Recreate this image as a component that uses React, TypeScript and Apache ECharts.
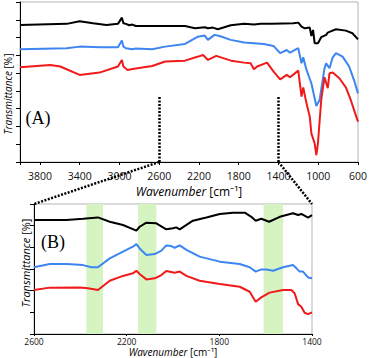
import React, { useEffect, useRef } from 'react';
import * as echarts from 'echarts';

// Panel (A): full spectrum, [wavenumber cm-1, transmittance (a.u.)]
const blackA: [number, number][] = [
  [4000, 77.1], [3530, 77.7], [3400, 79.2], [3265, 78.0], [3130, 77.1], [3015, 77.7], [2975, 81.2],
  [2960, 78.0], [2935, 77.7], [2900, 76.9], [2870, 77.3], [2835, 76.5], [2670, 76.5], [2340, 76.5],
  [2240, 75.2], [2140, 75.8], [2110, 75.2], [2060, 75.6], [2010, 74.7], [1945, 75.8], [1880, 76.9],
  [1745, 77.7], [1645, 77.3], [1580, 77.7], [1480, 77.7], [1350, 77.9], [1250, 78.0], [1200, 78.4],
  [1168, 76.2], [1135, 75.2], [1085, 75.6], [1069, 70.9], [1052, 74.3], [1036, 66.8], [1003, 66.8],
  [970, 70.2], [920, 71.5], [904, 72.8], [887, 73.2], [821, 74.7], [722, 73.9], [656, 72.4], [600, 69.0],
];
const blueA: [number, number][] = [
  [4000, 63.4], [3530, 64.0], [3400, 64.9], [3200, 64.5], [3015, 64.5], [2975, 68.3], [2960, 64.9],
  [2935, 64.0], [2870, 63.4], [2835, 63.8], [2670, 63.4], [2540, 64.9], [2340, 66.4], [2210, 70.5],
  [2142, 71.1], [2110, 68.7], [2043, 71.5], [1993, 70.9], [1880, 68.7], [1745, 67.2], [1548, 66.4],
  [1450, 65.3], [1383, 61.2], [1317, 63.0], [1284, 61.5], [1201, 64.0], [1168, 55.5], [1151, 58.9],
  [1118, 51.8], [1069, 44.3], [1019, 31.5], [986, 34.9], [937, 52.7], [920, 55.5], [887, 52.7],
  [854, 58.9], [821, 61.2], [755, 59.3], [689, 53.7], [640, 46.1], [600, 38.6],
];
const redA: [number, number][] = [
  [4000, 53.3], [3695, 54.6], [3595, 53.7], [3400, 49.0], [3200, 50.3], [3015, 53.7], [2975, 57.4],
  [2960, 53.7], [2918, 51.8], [2868, 52.3], [2670, 54.0], [2540, 56.5], [2340, 57.0], [2208, 59.3],
  [2159, 60.2], [2109, 57.4], [2026, 59.7], [1878, 57.0], [1746, 55.9], [1680, 55.5], [1647, 52.2],
  [1614, 53.7], [1515, 55.9], [1449, 50.8], [1383, 46.5], [1317, 49.0], [1284, 47.7], [1201, 51.4],
  [1168, 36.8], [1151, 42.0], [1118, 33.0], [1085, 25.5], [1069, 16.1], [1036, 10.5], [1019, 3.9],
  [1003, 10.5], [970, 34.9], [937, 47.7], [904, 41.5], [887, 49.9], [854, 50.3], [788, 47.1],
  [722, 42.0], [673, 34.9], [640, 29.3], [600, 22.7],
];

// Panel (B): zoomed 2600-1400 cm-1
const blackB: [number, number][] = [
  [2600, 52.6], [2460, 52.6], [2388, 53.2], [2324, 53.8], [2273, 51.8], [2216, 50.3], [2158, 47.7],
  [2144, 49.5], [2115, 51.4], [2072, 51.1], [2029, 48.3], [2000, 48.8], [1986, 49.2], [1971, 48.3],
  [1950, 49.8], [1914, 52.3], [1856, 53.8], [1798, 55.4], [1741, 56.0], [1690, 56.0], [1662, 54.1],
  [1643, 52.3], [1619, 53.2], [1585, 51.8], [1539, 54.1], [1482, 55.7], [1460, 54.9], [1446, 55.4],
  [1417, 53.7], [1400, 54.9],
];
const blueB: [number, number][] = [
  [2600, 30.8], [2532, 32.3], [2460, 32.3], [2388, 31.8], [2352, 30.8], [2324, 30.8], [2273, 34.9],
  [2216, 38.0], [2173, 40.3], [2158, 41.5], [2144, 39.5], [2115, 36.5], [2079, 36.9], [2050, 38.5],
  [2029, 40.9], [2007, 40.6], [1993, 39.8], [1971, 40.9], [1942, 38.8], [1885, 35.7], [1798, 33.4],
  [1712, 32.3], [1669, 30.8], [1643, 28.8], [1619, 29.8], [1597, 29.8], [1568, 29.2], [1525, 30.8],
  [1482, 31.8], [1467, 30.3], [1453, 28.8], [1439, 28.8], [1417, 26.1], [1400, 25.7],
];
const redB: [number, number][] = [
  [2600, 20.3], [2532, 21.4], [2403, 21.5], [2367, 21.1], [2324, 20.3], [2273, 24.6], [2216, 26.8],
  [2173, 28.0], [2158, 29.2], [2144, 27.7], [2115, 25.2], [2079, 25.7], [2050, 27.2], [2029, 29.1],
  [1993, 28.3], [1971, 28.8], [1942, 26.8], [1885, 24.6], [1798, 23.1], [1712, 21.8], [1669, 19.5],
  [1643, 14.9], [1619, 16.9], [1583, 19.1], [1525, 20.3], [1489, 20.3], [1475, 18.8], [1460, 13.8],
  [1446, 12.6], [1432, 9.8], [1417, 9.2], [1400, 10.0],
];

// highlighted bands in (B), [from, to] cm-1
const bandsB: [number, number][] = [[2374, 2302], [2151, 2072], [1609, 1525]];
// zoom window shown in (B) and the height of the dotted markers in (A)
const zoomEdges: [number, number] = [2600, 1400];
const zoomMarkerTop = 36.5;

const BLACK = '#000000';
const BLUE = '#3d85f0';
const RED = '#f01a1a';
const SANS = '"Open Sans", "Noto Sans", sans-serif';

export default function App() {
  const ref = useRef<HTMLDivElement>(null);

  useEffect(() => {
    if (!ref.current) return;
    const chart = echarts.init(ref.current, undefined, { renderer: 'svg' });

    const lineSeries = (data: [number, number][], color: string, idx: number, extra: any = {}) => ({
      type: 'line',
      data,
      xAxisIndex: idx,
      yAxisIndex: idx,
      showSymbol: false,
      symbol: 'none',
      lineStyle: { color, width: 2 },
      itemStyle: { color },
      z: 3,
      ...extra,
    });

    const xName = '{i|Wavenumber} [cm⁻¹]';

    chart.setOption({
      animation: false,
      grid: [
        { left: 20, top: 2, right: 9, height: 160, show: true, borderColor: '#b5b5b5', borderWidth: 1 },
        { left: 34, top: 204, right: 58, height: 130, show: true, borderColor: '#b5b5b5', borderWidth: 1 },
      ],
      xAxis: [
        {
          type: 'value', gridIndex: 0, inverse: true, min: 600, max: 4000, interval: 400,
          splitLine: { show: false },
          axisLine: { lineStyle: { color: '#000', width: 1 } },
          axisTick: { show: true, length: 3, lineStyle: { color: '#000' } },
          axisLabel: {
            color: '#111', fontSize: 10.5, fontFamily: SANS, margin: 8,
            formatter: (v: number) => (v === 4000 ? '' : String(v)),
          },
          name: xName, nameLocation: 'middle', nameGap: 23,
          nameTextStyle: { color: '#000', fontSize: 12, fontFamily: SANS, rich: { i: { fontStyle: 'italic', fontSize: 12, fontFamily: SANS, color: '#000' } } },
        },
        {
          type: 'value', gridIndex: 1, inverse: true, min: 1400, max: 2600, interval: 400,
          splitLine: { show: false },
          axisLine: { lineStyle: { color: '#000', width: 1 } },
          axisTick: { show: true, length: 2, lineStyle: { color: '#000' } },
          axisLabel: { color: '#111', fontSize: 8.5, fontFamily: SANS, margin: 3, formatter: (v: number) => String(v) },
          name: xName, nameLocation: 'middle', nameGap: 12,
          nameTextStyle: { color: '#000', fontSize: 10, fontFamily: SANS, rich: { i: { fontStyle: 'italic', fontSize: 10, fontFamily: SANS, color: '#000' } } },
        },
      ],
      yAxis: [
        {
          type: 'value', gridIndex: 0, min: 0, max: 90, interval: 10,
          splitLine: { show: false },
          axisLine: { show: true, lineStyle: { color: '#000', width: 1 } },
          axisTick: { show: true, length: 4, lineStyle: { color: '#000' } },
          axisLabel: { show: false },
        },
        {
          type: 'value', gridIndex: 1, min: 0, max: 60, interval: 10,
          splitLine: { show: false },
          axisLine: { show: true, lineStyle: { color: '#000', width: 1 } },
          axisTick: { show: true, length: 4, lineStyle: { color: '#000' } },
          axisLabel: { show: false },
        },
      ],
      series: [
        lineSeries(blackA, BLACK, 0, {
          markLine: {
            silent: true,
            symbol: ['none', 'none'],
            label: { show: false },
            lineStyle: { color: '#000', width: 2.5, type: [2, 1.5] },
            data: zoomEdges.map((x) => [{ coord: [x, zoomMarkerTop] }, { coord: [x, 0] }]),
          },
        }),
        lineSeries(blueA, BLUE, 0),
        lineSeries(redA, RED, 0),
        lineSeries(blackB, BLACK, 1, {
          markArea: {
            silent: true,
            itemStyle: { color: '#d6f4c2' },
            data: bandsB.map(([a, b]) => [{ xAxis: a }, { xAxis: b }]),
          },
        }),
        lineSeries(blueB, BLUE, 1),
        lineSeries(redB, RED, 1),
      ],
    });

    const a0 = chart.convertToPixel({ xAxisIndex: 0, yAxisIndex: 0 }, [zoomEdges[0], 0]) as number[];
    const a1 = chart.convertToPixel({ xAxisIndex: 0, yAxisIndex: 0 }, [zoomEdges[1], 0]) as number[];
    const b0 = chart.convertToPixel({ xAxisIndex: 1, yAxisIndex: 1 }, [zoomEdges[0], 60]) as number[];
    const b1 = chart.convertToPixel({ xAxisIndex: 1, yAxisIndex: 1 }, [zoomEdges[1], 60]) as number[];

    const dotted = { stroke: '#000', lineWidth: 2.5, lineDash: [2, 1.5] };
    const yName = '{i|Transmittance} [%]';

    chart.setOption({
      graphic: [
        { type: 'line', z: 10, silent: true, shape: { x1: a0[0], y1: a0[1], x2: b0[0], y2: b0[1] }, style: dotted },
        { type: 'line', z: 10, silent: true, shape: { x1: a1[0], y1: a1[1], x2: b1[0], y2: b1[1] }, style: dotted },
        {
          type: 'text', x: 38, y: 118, z: 10,
          style: { text: '(A)', font: '18px "Liberation Serif", "DejaVu Serif", serif', fill: '#000', textAlign: 'center', textVerticalAlign: 'middle' },
        },
        {
          type: 'text', x: 53, y: 242, z: 10,
          style: { text: '(B)', font: '18px "Liberation Serif", "DejaVu Serif", serif', fill: '#000', textAlign: 'center', textVerticalAlign: 'middle' },
        },
        {
          type: 'text', x: 7.5, y: 94, rotation: Math.PI / 2, z: 10,
          style: {
            text: yName, fontSize: 10, fontFamily: SANS, fill: '#000', textAlign: 'center', textVerticalAlign: 'middle',
            rich: { i: { fontStyle: 'italic', fontSize: 10, fontFamily: SANS, fill: '#000' } },
          },
        },
        {
          type: 'text', x: 25, y: 263, rotation: Math.PI / 2, z: 10,
          style: {
            text: yName, fontSize: 11, fontFamily: SANS, fill: '#000', textAlign: 'center', textVerticalAlign: 'middle',
            rich: { i: { fontStyle: 'italic', fontSize: 11, fontFamily: SANS, fill: '#000' } },
          },
        },
      ],
    });

    return () => chart.dispose();
  }, []);

  return (
    <div
      ref={ref}
      style={{ position: 'absolute', left: 0, top: 0, width: 370, height: 358, background: '#fff' }}
    />
  );
}
